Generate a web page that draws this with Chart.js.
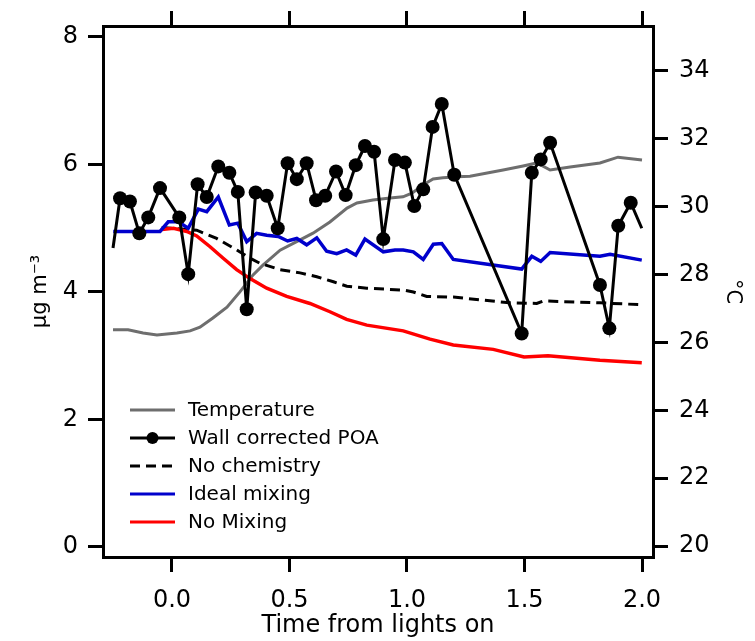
<!DOCTYPE html>
<html>
<head>
<meta charset="utf-8">
<script src="https://cdn.jsdelivr.net/npm/chart.js@4.4.1/dist/chart.umd.min.js"></script>
<style>
  body { margin: 0; background: #fff; }
  #wrap { width: 755px; height: 641px; }
</style>
</head>
<body>
<div id="wrap"><canvas id="poaChart" width="755" height="641"></canvas></div>
<script>
const fonte = '"DejaVu Sans", sans-serif';

// Temperature (right axis, deg C)
const tempX = [-0.251, -0.187, -0.123, -0.064, 0.021, 0.077, 0.119, 0.174, 0.234, 0.289, 0.345, 0.387, 0.46, 0.545, 0.6, 0.672, 0.745, 0.787, 0.855, 0.928, 0.983, 1.021, 1.068, 1.111, 1.153, 1.213, 1.268, 1.409, 1.494, 1.553, 1.609, 1.694, 1.821, 1.898, 2.0];
const tempY = [26.37, 26.37, 26.28, 26.22, 26.28, 26.34, 26.45, 26.72, 27.04, 27.49, 27.99, 28.28, 28.72, 29.02, 29.22, 29.55, 29.96, 30.11, 30.2, 30.26, 30.29, 30.4, 30.64, 30.82, 30.85, 30.88, 30.9, 31.08, 31.2, 31.29, 31.08, 31.17, 31.29, 31.46, 31.38];

// Wall corrected POA (left axis)
const poaX = [-0.251, -0.221, -0.179, -0.139, -0.101, -0.051, 0.031, 0.069, 0.109, 0.148, 0.197, 0.244, 0.28, 0.318, 0.356, 0.403, 0.45, 0.492, 0.531, 0.573, 0.613, 0.652, 0.698, 0.739, 0.782, 0.821, 0.86, 0.899, 0.949, 0.991, 1.031, 1.069, 1.109, 1.148, 1.201, 1.488, 1.531, 1.569, 1.609, 1.821, 1.861, 1.899, 1.952, 1.999];
const poaY = [4.69, 5.47, 5.42, 4.92, 5.17, 5.63, 5.17, 4.28, 5.69, 5.49, 5.97, 5.87, 5.57, 3.73, 5.56, 5.51, 5.0, 6.02, 5.77, 6.02, 5.44, 5.51, 5.89, 5.52, 5.99, 6.29, 6.2, 4.83, 6.07, 6.03, 5.35, 5.61, 6.59, 6.95, 5.84, 3.35, 5.87, 6.08, 6.34, 4.11, 3.43, 5.04, 5.4, 5.0];

// No chemistry
const noChemX = [-0.044, 0.105, 0.19, 0.275, 0.332, 0.374, 0.46, 0.545, 0.616, 0.687, 0.744, 0.829, 0.984, 1.027, 1.084, 1.197, 1.438, 1.552, 1.58, 1.821, 1.999];
const noChemY = [5.01, 4.97, 4.84, 4.66, 4.53, 4.45, 4.35, 4.3, 4.24, 4.16, 4.09, 4.06, 4.03, 4.0, 3.93, 3.92, 3.83, 3.82, 3.86, 3.83, 3.8];

// Ideal mixing
const idealX = [-0.25, -0.051, -0.016, 0.027, 0.069, 0.112, 0.148, 0.197, 0.244, 0.28, 0.318, 0.36, 0.403, 0.452, 0.492, 0.531, 0.573, 0.616, 0.658, 0.701, 0.743, 0.782, 0.821, 0.899, 0.949, 0.984, 1.027, 1.069, 1.112, 1.148, 1.197, 1.488, 1.531, 1.569, 1.609, 1.821, 1.864, 1.999];
const idealY = [4.95, 4.95, 5.1, 5.1, 5.0, 5.3, 5.26, 5.49, 5.05, 5.08, 4.79, 4.92, 4.89, 4.87, 4.8, 4.84, 4.74, 4.85, 4.64, 4.6, 4.66, 4.58, 4.83, 4.63, 4.66, 4.66, 4.63, 4.51, 4.75, 4.76, 4.51, 4.36, 4.56, 4.48, 4.62, 4.56, 4.59, 4.5];

// No Mixing
const noMixX = [-0.044, 0.006, 0.063, 0.105, 0.162, 0.218, 0.275, 0.332, 0.403, 0.488, 0.587, 0.672, 0.743, 0.829, 0.984, 1.098, 1.197, 1.367, 1.498, 1.6, 1.821, 1.999];
const noMixY = [4.98, 5.0, 4.95, 4.88, 4.71, 4.53, 4.35, 4.21, 4.06, 3.93, 3.82, 3.69, 3.57, 3.48, 3.39, 3.26, 3.17, 3.1, 2.98, 3.0, 2.93, 2.89];

const xTicks = [0, 0.5, 1.0, 1.5, 2.0];
const leftTicks = [0, 2, 4, 6, 8];
const rightTicks = [20, 22, 24, 26, 28, 30, 32, 34];

function pts(xs, ys) {
  return xs.map((x, i) => ({ x: x, y: ys[i] }));
}

// legend drawn inside the plot, lower left
const insideLegend = {
  id: 'insideLegend',
  afterDraw(chart) {
    const ctx = chart.ctx;
    const left = chart.chartArea.left + 27;
    const top = chart.chartArea.top + 384;
    ctx.save();
    ctx.font = '20px ' + fonte;
    ctx.textBaseline = 'middle';
    ctx.fillStyle = '#000';
    chart.data.datasets.forEach((ds, i) => {
      const y = top + i * 28;
      ctx.strokeStyle = ds.borderColor;
      ctx.lineWidth = 3;
      ctx.setLineDash(ds.borderDash || []);
      ctx.beginPath();
      ctx.moveTo(left, y);
      ctx.lineTo(left + 45, y);
      ctx.stroke();
      ctx.setLineDash([]);
      if (ds.showMarker) {
        ctx.beginPath();
        ctx.arc(left + 22.5, y, 6, 0, Math.PI * 2);
        ctx.fillStyle = '#000';
        ctx.fill();
      }
      ctx.fillStyle = '#000';
      ctx.fillText(ds.label, left + 58, y + 1);
    });
    ctx.restore();
  }
};

function fixSize(prop, size) {
  return (scale) => { scale[prop] = size; };
}
function setTicks(values) {
  return (scale) => { scale.ticks = values.map((v) => ({ value: v })); };
}

const axisGrid = {
  drawOnChartArea: false,
  color: '#000',
  lineWidth: 3,
  tickLength: 15,
};
const axisBorder = { display: true, color: '#000', width: 3 };

const chart = new Chart(document.getElementById('poaChart'), {
  type: 'line',
  data: {
    datasets: [
      {
        label: 'Temperature',
        data: pts(tempX, tempY),
        yAxisID: 'yT',
        borderColor: '#6e6e6e',
        borderWidth: 3,
        pointRadius: 0,
        order: 4,
      },
      {
        label: 'Wall corrected POA',
        data: pts(poaX, poaY),
        yAxisID: 'y',
        borderColor: '#000',
        borderWidth: 3,
        pointRadius: poaX.map((_, i) => (i === 0 || i === poaX.length - 1 ? 0 : 7)),
        pointBackgroundColor: '#000',
        pointBorderWidth: 0,
        showMarker: true,
        order: 0,
      },
      {
        label: 'No chemistry',
        data: pts(noChemX, noChemY),
        yAxisID: 'y',
        borderColor: '#000',
        borderWidth: 3,
        borderDash: [10, 6],
        pointRadius: 0,
        order: 3,
      },
      {
        label: 'Ideal mixing',
        data: pts(idealX, idealY),
        yAxisID: 'y',
        borderColor: '#0000cc',
        borderWidth: 3.5,
        pointRadius: 0,
        order: 1,
      },
      {
        label: 'No Mixing',
        data: pts(noMixX, noMixY),
        yAxisID: 'y',
        borderColor: '#ff0000',
        borderWidth: 3.5,
        pointRadius: 0,
        order: 2,
      },
    ],
  },
  options: {
    responsive: false,
    animation: false,
    layout: { padding: 0 },
    plugins: {
      legend: { display: false },
      tooltip: { enabled: false },
    },
    elements: { line: { tension: 0 } },
    scales: {
      x: {
        type: 'linear',
        position: 'bottom',
        min: -0.2936,
        max: 2.0468,
        afterBuildTicks: setTicks(xTicks),
        afterFit: fixSize('height', 84),
        grid: axisGrid,
        border: axisBorder,
        ticks: {
          color: '#000',
          padding: 14,
          maxRotation: 0,
          font: { family: fonte, size: 24 },
          callback: (v) => v.toFixed(1),
        },
        title: {
          display: true,
          text: 'Time from lights on',
          color: '#000',
          padding: { top: 0, bottom: 1 },
          font: { family: fonte, size: 24 },
        },
      },
      x2: {
        type: 'linear',
        position: 'top',
        min: -0.2936,
        max: 2.0468,
        afterBuildTicks: setTicks(xTicks),
        afterFit: fixSize('height', 26),
        grid: axisGrid,
        border: axisBorder,
        ticks: { display: false },
      },
      y: {
        type: 'linear',
        position: 'left',
        min: -0.157,
        max: 8.1725,
        afterBuildTicks: setTicks(leftTicks),
        afterFit: fixSize('width', 103),
        grid: axisGrid,
        border: axisBorder,
        ticks: {
          color: '#000',
          padding: 10,
          font: { family: fonte, size: 24 },
        },
        title: {
          display: true,
          text: 'µg m⁻³',
          color: '#000',
          padding: { top: 28, bottom: 0 },
          font: { family: fonte, size: 21 },
        },
      },
      yT: {
        type: 'linear',
        position: 'right',
        min: 19.676,
        max: 35.326,
        afterBuildTicks: setTicks(rightTicks),
        afterFit: fixSize('width', 102),
        grid: axisGrid,
        border: axisBorder,
        ticks: {
          color: '#000',
          padding: 11,
          font: { family: fonte, size: 24 },
        },
        title: {
          display: true,
          text: '°C',
          color: '#000',
          padding: { top: 10, bottom: 0 },
          font: { family: fonte, size: 21 },
        },
      },
    },
  },
  plugins: [insideLegend],
});
</script>
</body>
</html>
